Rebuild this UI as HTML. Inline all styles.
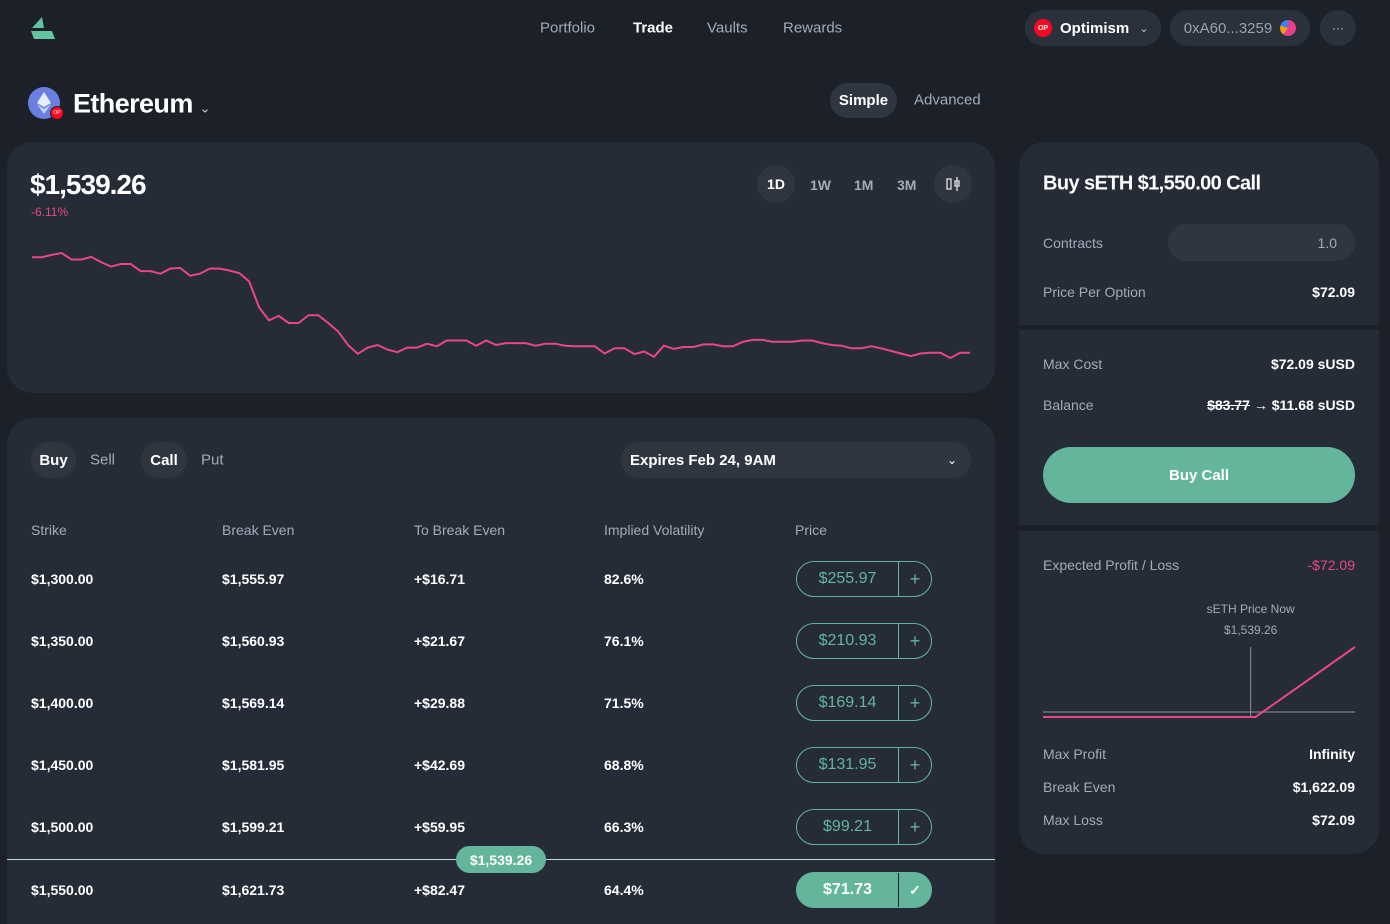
<!DOCTYPE html>
<html><head><meta charset="utf-8">
<style>
*{box-sizing:border-box;margin:0;padding:0}
html{width:1390px;height:924px;overflow:hidden}
body{width:1390px;height:924px;overflow:hidden;background:#1b2029;font-family:"Liberation Sans",sans-serif;color:#fff;position:relative}
.a{position:absolute}
.card{position:absolute;background:#252c38;border-radius:26px}
.muted{color:#a3abb8}
.pill{position:absolute;border-radius:20px;background:#2f3642;display:flex;align-items:center;justify-content:center}
.t{position:absolute;white-space:nowrap;transform:translateY(-50%)}
.b{font-weight:bold}
.pb{position:absolute;left:796px;width:136px;height:36px;border:1px solid #63b59c;border-radius:18px;display:flex;color:#63b59c;font-size:16px}
.pb .v{width:102px;display:flex;align-items:center;justify-content:center;border-right:1px solid #63b59c}
.pb .p{flex:1;display:flex;align-items:center;justify-content:center;font-size:18px}
</style></head><body>
<svg class="a" style="left:30px;top:15px" width="26" height="26" viewBox="0 0 26 26"><polygon points="2,13 12,2 14,13" fill="#63c4a2"/><polygon points="1,16 22,16 25,24 4,24" fill="#63c4a2"/></svg>
<div class="t muted" style="left:540px;top:28px;font-size:15px">Portfolio</div>
<div class="t b" style="left:633px;top:28px;font-size:15px">Trade</div>
<div class="t muted" style="left:707px;top:28px;font-size:15px">Vaults</div>
<div class="t muted" style="left:783px;top:28px;font-size:15px">Rewards</div>
<div class="pill" style="left:1025px;top:10px;width:136px;height:36px;justify-content:flex-start;padding-left:9px;background:#2a313c">
<span style="width:18px;height:18px;border-radius:50%;background:#ff0420;font-size:7px;font-weight:bold;display:flex;align-items:center;justify-content:center">OP</span>
<span class="b" style="margin-left:8px;font-size:15px">Optimism</span><span style="margin-left:10px;font-size:11px;color:#ccc">&#8964;</span></div>
<div class="pill" style="left:1170px;top:10px;width:140px;height:36px;background:#2a313c;color:#9aa2ae;font-size:15px">0xA60...3259<span style="margin-left:8px;width:16px;height:16px;border-radius:50%;background:conic-gradient(#e83e8c 0 60%,#f59e0b 0 80%,#3b82f6 0)"></span></div>
<div class="pill" style="left:1320px;top:10px;width:36px;height:36px;border-radius:50%;background:#2a313c;color:#ccc;font-size:12px">···</div>
<div class="a" style="left:28px;top:87px;width:32px;height:32px;border-radius:50%;background:#6b7fe0"><svg width="32" height="32"><polygon points="16,5 23,16 16,20 9,16" fill="#e8ecff"/><polygon points="16,22 23,17 16,27 9,17" fill="#c8d0ff"/></svg></div>
<div class="a" style="left:50px;top:106px;width:14px;height:14px;border-radius:50%;background:#ff0420;border:1px solid #1b2029;font-size:5px;display:flex;align-items:center;justify-content:center">OP</div>
<div class="t b" style="left:73px;top:104px;font-size:27px;letter-spacing:-0.6px">Ethereum <span style="font-size:13px;font-weight:normal;color:#ccc">&#8964;</span></div>
<div class="pill b" style="left:830px;top:83px;width:67px;height:35px;font-size:15px">Simple</div>
<div class="t muted" style="left:914px;top:100px;font-size:15px">Advanced</div>
<div class="card" style="left:7px;top:142px;width:988px;height:251px"></div>
<div class="t b" style="left:30px;top:185px;font-size:28px;letter-spacing:-1px">$1,539.26</div>
<div class="t" style="left:31px;top:212px;font-size:12px;color:#e8468b">-6.11%</div>
<div class="pill b" style="left:757px;top:165px;width:38px;height:38px;border-radius:50%;font-size:14px">1D</div>
<div class="t b muted" style="left:810px;top:185px;font-size:14px">1W</div>
<div class="t b muted" style="left:854px;top:185px;font-size:14px">1M</div>
<div class="t b muted" style="left:897px;top:185px;font-size:14px">3M</div>
<div class="pill" style="left:934px;top:165px;width:38px;height:38px;border-radius:50%"><svg width="16" height="16"><rect x="2" y="3" width="4" height="10" fill="none" stroke="#ccc" stroke-width="1.5"/><line x1="12" y1="1" x2="12" y2="15" stroke="#ccc" stroke-width="1.5"/><rect x="10" y="5" width="4" height="5" fill="none" stroke="#ccc" stroke-width="1.5"/></svg></div>
<svg class="a" id="pchart" style="left:0;top:0" width="1000" height="400"></svg>
<div class="card" style="left:7px;top:418px;width:988px;height:506px;border-radius:26px 26px 0 0"></div>
<div class="pill b" style="left:31px;top:442px;width:45px;height:36px;font-size:15px">Buy</div>
<div class="t muted" style="left:90px;top:460px;font-size:15px">Sell</div>
<div class="pill b" style="left:141px;top:442px;width:46px;height:36px;font-size:15px">Call</div>
<div class="t muted" style="left:201px;top:460px;font-size:15px">Put</div>
<div class="pill b" style="left:621px;top:442px;width:350px;height:36px;justify-content:space-between;padding:0 14px 0 9px;font-size:15px"><span>Expires Feb 24, 9AM</span><span style="font-size:12px;font-weight:normal">&#8964;</span></div>
<div class="t muted" style="left:31px;top:530px;font-size:14px">Strike</div>
<div class="t muted" style="left:222px;top:530px;font-size:14px">Break Even</div>
<div class="t muted" style="left:414px;top:530px;font-size:14px">To Break Even</div>
<div class="t muted" style="left:604px;top:530px;font-size:14px">Implied Volatility</div>
<div class="t muted" style="left:795px;top:530px;font-size:14px">Price</div>
<div id="rows"></div>
<div class="a" style="left:7px;top:859px;width:988px;height:1px;background:#b9ddd2"></div>
<div class="pill b" style="left:456px;top:846px;width:90px;height:27px;background:#63b59c;font-size:14px;border-radius:14px">$1,539.26</div>
<div class="card" style="left:1019px;top:142px;width:360px;height:183px;border-radius:26px 26px 0 0"></div>
<div class="t b" style="left:1043px;top:184px;font-size:20px;letter-spacing:-0.6px">Buy sETH $1,550.00 Call</div>
<div class="t muted" style="left:1043px;top:243px;font-size:14px">Contracts</div>
<div class="pill" style="left:1168px;top:224px;width:187px;height:37px;background:#2f3642;justify-content:flex-end;padding-right:18px;color:#a3abb8;font-size:14px">1.0</div>
<div class="t muted" style="left:1043px;top:292px;font-size:14px">Price Per Option</div>
<div class="t b" style="right:35px;top:292px;font-size:14px">$72.09</div>
<div class="card" style="left:1019px;top:330px;width:360px;height:195px;border-radius:0"></div>
<div class="t muted" style="left:1043px;top:364px;font-size:14px">Max Cost</div>
<div class="t b" style="right:35px;top:364px;font-size:14px">$72.09 sUSD</div>
<div class="t muted" style="left:1043px;top:405px;font-size:14px">Balance</div>
<div class="t b" style="right:35px;top:405px;font-size:14px"><s>$83.77</s> &rarr; $11.68 sUSD</div>
<div class="pill b" style="left:1043px;top:447px;width:312px;height:56px;border-radius:28px;background:#63b59c;font-size:15px">Buy Call</div>
<div class="card" style="left:1019px;top:531px;width:360px;height:323px;border-radius:0 0 26px 26px"></div>
<div class="t muted" style="left:1043px;top:565px;font-size:14px">Expected Profit / Loss</div>
<div class="t" style="right:35px;top:565px;font-size:14px;color:#e8468b">-$72.09</div>
<svg class="a" id="pnl" style="left:1019px;top:590px" width="360" height="140"></svg>
<div class="t muted" style="left:1043px;top:754px;font-size:14px">Max Profit</div>
<div class="t b" style="right:35px;top:754px;font-size:14px">Infinity</div>
<div class="t muted" style="left:1043px;top:787px;font-size:14px">Break Even</div>
<div class="t b" style="right:35px;top:787px;font-size:14px">$1,622.09</div>
<div class="t muted" style="left:1043px;top:820px;font-size:14px">Max Loss</div>
<div class="t b" style="right:35px;top:820px;font-size:14px">$72.09</div>
<script>
const prices=[1615,1615,1622,1628,1608,1608,1616,1600,1586,1594,1594,1572,1572,1564,1580,1582,1558,1564,1580,1580,1574,1566,1540,1460,1420,1434,1412,1412,1436,1436,1412,1386,1344,1317,1336,1344,1330,1322,1336,1336,1348,1340,1358,1358,1358,1342,1358,1344,1350,1350,1350,1342,1348,1348,1342,1340,1340,1340,1318,1334,1334,1316,1324,1308,1342,1332,1338,1338,1346,1346,1340,1340,1354,1360,1360,1354,1354,1354,1358,1358,1350,1344,1342,1334,1334,1340,1334,1326,1318,1310,1318,1320,1320,1304,1320,1320];
const strikes=["$1,300.00","$1,350.00","$1,400.00","$1,450.00","$1,500.00","$1,550.00"];
const breakEvens=["$1,555.97","$1,560.93","$1,569.14","$1,581.95","$1,599.21","$1,621.73"];
const toBreakEven=["+$16.71","+$21.67","+$29.88","+$42.69","+$59.95","+$82.47"];
const ivs=["82.6%","76.1%","71.5%","68.8%","66.3%","64.4%"];
const optPrices=["$255.97","$210.93","$169.14","$131.95","$99.21","$71.73"];
const pnlX=[1080,1550,1770];
const pnlY=[-72.09,-72.09,147.91];
const spot=1539.26;
const NS="http://www.w3.org/2000/svg";
(function(){
 const svg=document.getElementById('pchart');
 const mn=Math.min(...prices),mx=Math.max(...prices);
 const x=i=>32+i*(970-32)/(prices.length-1);
 const y=v=>358-(v-mn)/(mx-mn)*(358-253);
 const p=document.createElementNS(NS,'path');
 p.setAttribute('d',prices.map((v,i)=>(i?'L':'M')+x(i).toFixed(1)+','+y(v).toFixed(1)).join(''));
 p.setAttribute('fill','none');p.setAttribute('stroke','#e8468b');p.setAttribute('stroke-width','2');
 
 
 svg.appendChild(p);
})();
(function(){
 const host=document.getElementById('rows');
 const ys=[579,641,703,765,827,890];
 strikes.forEach((s,i)=>{
  const y=ys[i];
  const cols=[[31,s],[222,breakEvens[i]],[414,toBreakEven[i]],[604,ivs[i]]];
  cols.forEach(([x,t])=>{
   const d=document.createElement('div');d.className='t b';d.style.cssText=`left:${x}px;top:${y}px;font-size:14px`;d.textContent=t;
   
   
   host.appendChild(d);
  });
  const sel=i===5;
  const b=document.createElement('div');b.className='pb';b.style.top=(y-18)+'px';
  if(sel){b.style.background='#63b59c';b.style.color='#fff';b.style.fontWeight='bold';}
  b.innerHTML=`<div class="v" ${sel?'style="border-color:#1b2029"':''}>${optPrices[i]}</div><div class="p" ${sel?'style="font-size:14px"':''}>${sel?'&#10003;':'+'}</div>`;
  
  
  host.appendChild(b);
 });
})();
(function(){
 const svg=document.getElementById('pnl');
 const lo=pnlX[0],hi=pnlX[pnlX.length-1];
 const x=v=>24+(v-lo)/(hi-lo)*(336-24);
 const yv=v=>127-(v-pnlY[0])/(pnlY[2]-pnlY[0])*(127-57);
 const ax=document.createElementNS(NS,'line');
 ax.setAttribute('x1',24);ax.setAttribute('x2',336);ax.setAttribute('y1',122);ax.setAttribute('y2',122);
 ax.setAttribute('stroke','#6b7380');ax.setAttribute('stroke-width','1.5');
 
 
 svg.appendChild(ax);
 const sx=x(spot);
 const vl=document.createElementNS(NS,'line');
 vl.setAttribute('x1',sx);vl.setAttribute('x2',sx);vl.setAttribute('y1',57);vl.setAttribute('y2',127);
 vl.setAttribute('stroke','#8a919c');vl.setAttribute('stroke-width','1');
 
 
 svg.appendChild(vl);
 [['sETH Price Now',19],['$1,539.26',40]].forEach(([t,yy])=>{
  const tx=document.createElementNS(NS,'text');tx.setAttribute('x',sx);tx.setAttribute('y',yy+4);tx.setAttribute('text-anchor','middle');
  tx.setAttribute('fill','#a3abb8');tx.setAttribute('font-size','12');tx.setAttribute('font-family','Liberation Sans, sans-serif');tx.textContent=t;
  
  
  svg.appendChild(tx);
 });
 const p=document.createElementNS(NS,'path');
 p.setAttribute('d',pnlX.map((v,i)=>(i?'L':'M')+x(v).toFixed(1)+','+yv(pnlY[i]).toFixed(1)).join(''));
 p.setAttribute('fill','none');p.setAttribute('stroke','#e8468b');p.setAttribute('stroke-width','2');
 
 
 svg.appendChild(p);
})();
</script>
</body></html>
